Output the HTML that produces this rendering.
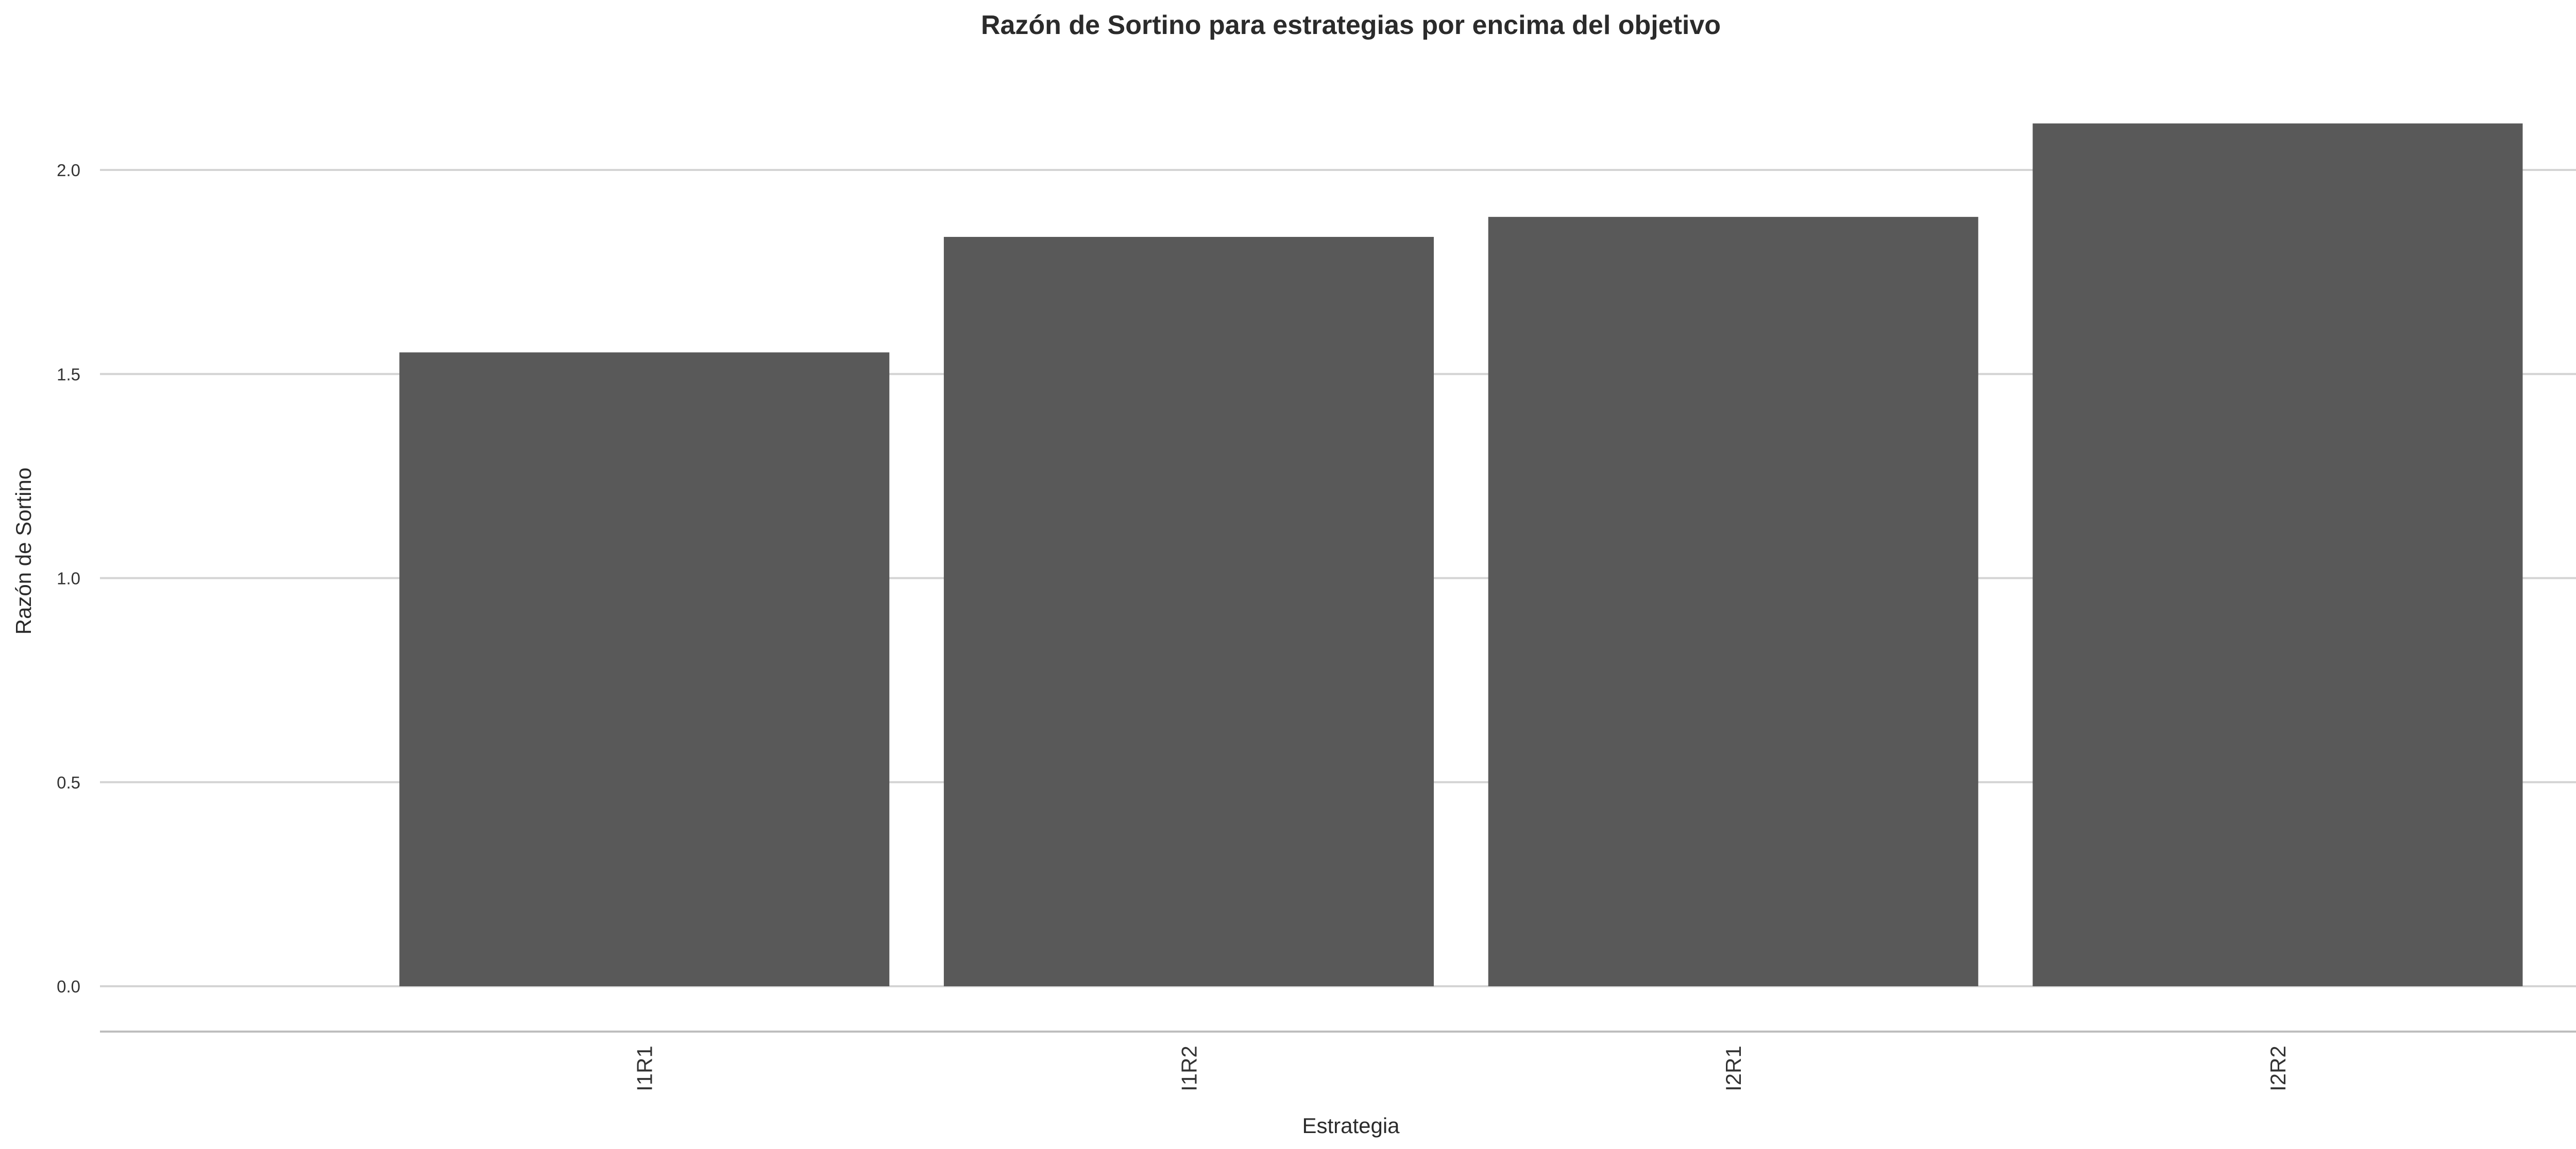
<!DOCTYPE html>
<html><head><meta charset="utf-8"><style>
html,body{margin:0;padding:0;background:#fff;}
svg{display:block;}
text{font-family:"Liberation Sans",Arial,sans-serif;}
</style></head><body>
<svg id="chart" width="5081" height="2231" viewBox="0 0 5081 2231" xmlns="http://www.w3.org/2000/svg">
<rect width="5081" height="2231" fill="#fff"/>
<text x="2622" y="66" text-anchor="middle" font-size="52" font-weight="bold" fill="#2b2b2b">Razón de Sortino para estrategias por encima del objetivo</text>
<g id="grid"></g>
<g id="bars"></g>
<g id="xticks"></g>
<line x1="194" x2="5055" y1="2003" y2="2003" stroke="#bebebe" stroke-width="4"/>
<text transform="translate(60,1070) rotate(-90)" text-anchor="middle" font-size="42" fill="#2b2b2b">Razón de Sortino</text>
<text x="2622" y="2200" text-anchor="middle" font-size="42" fill="#2b2b2b">Estrategia</text>
</svg>
<script>
const categories = ["I1R1","I1R2","I2R1","I2R2"];
const values = [1.553, 1.836, 1.885, 2.114];
const yTicks = [0, 0.5, 1.0, 1.5, 2.0];
const yTickLabels = ["0.0","0.5","1.0","1.5","2.0"];

const NS = "http://www.w3.org/2000/svg";
const plotL = 194, plotR = 5055;
const y0px = 1915, unitPx = 792.5;
const band = (plotR - plotL) / 4.6;
function yScale(v){ return y0px - v * unitPx; }
function xCenter(i){ return plotL + (i + 1) * band; }

const grid = document.getElementById('grid');
yTicks.forEach((t, i) => {
  const ln = document.createElementNS(NS, 'line');
  
  
  ln.setAttribute('x1', plotL); ln.setAttribute('x2', plotR);
  ln.setAttribute('y1', yScale(t)); ln.setAttribute('y2', yScale(t));
  ln.setAttribute('stroke', '#d4d4d4'); ln.setAttribute('stroke-width', '4');
  grid.appendChild(ln);
  const tx = document.createElementNS(NS, 'text');
  
  
  tx.setAttribute('x', 156); tx.setAttribute('y', yScale(t) + 12);
  tx.setAttribute('text-anchor', 'end'); tx.setAttribute('font-size', '33');
  tx.setAttribute('fill', '#333');
  tx.textContent = yTickLabels[i];
  grid.appendChild(tx);
});

const bars = document.getElementById('bars');
const xt = document.getElementById('xticks');
const bw = band * 0.9;
categories.forEach((c, i) => {
  const r = document.createElementNS(NS, 'rect');
  
  
  r.setAttribute('x', xCenter(i) - bw / 2);
  r.setAttribute('y', yScale(values[i]));
  r.setAttribute('width', bw);
  r.setAttribute('height', yScale(0) - yScale(values[i]));
  r.setAttribute('fill', '#595959');
  bars.appendChild(r);
  const t = document.createElementNS(NS, 'text');
  
  
  t.setAttribute('transform', 'translate(' + (xCenter(i) + 15) + ',2119) rotate(-90)');
  t.setAttribute('font-size', '42');
  t.setAttribute('fill', '#333');
  t.textContent = c;
  xt.appendChild(t);
});
</script>
</body></html>
